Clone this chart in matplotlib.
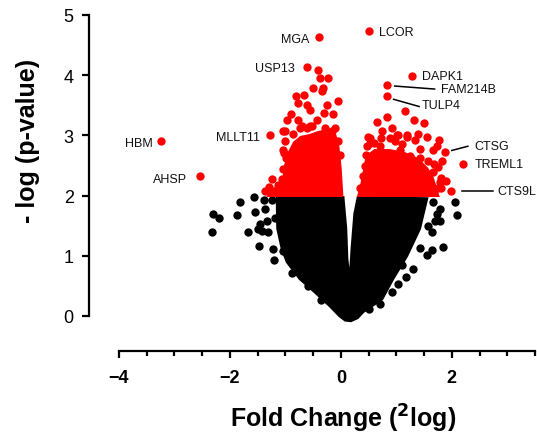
import matplotlib
matplotlib.use("Agg")
import matplotlib.pyplot as plt

plt.rcParams["font.family"] = ["Liberation Sans", "DejaVu Sans"]

# ---------------------------------------------------------------------------
# Data (fold change in 2log, -log p-value)
# ---------------------------------------------------------------------------
# Dense non-significant core (outline of the solid black V)
black_core_x = [-1.15, -1.14, -1.06, -0.97, -0.74, -0.47, -0.20, -0.02, 0.08,
                0.18, 0.30, 0.40, 0.74, 0.94, 1.19, 1.42, 1.55, 0.31, 0.25,
                0.20, 0.16, 0.11, 0.09, 0.04]
black_core_y = [1.97, 1.45, 1.12, 0.90, 0.62, 0.40, 0.17, 0.00, -0.07,
                -0.08, -0.03, 0.07, 0.28, 0.62, 1.00, 1.45, 1.95, 1.97, 1.70,
                1.12, 0.53, 0.95, 1.45, 1.97]

# Scattered non-significant genes around the core
black_x = [-1.82, -1.57, -1.39, -2.31, -2.20, -1.87, -1.55, -1.37, -2.32,
           -1.68, -1.46, -1.33, -1.50, -1.42, -1.32, -1.48, -1.23, -1.05,
           -1.21, -0.88, -1.19, -1.25, -0.60, -0.35,
           2.05, 2.09, 1.84, 1.64, 1.55, 1.42, 1.30, 1.17, 1.03, 0.92, 0.70,
           1.78, 1.73, 1.78, 1.69, 1.64, 1.57, 1.66, 0.50, 1.10]
black_y = [1.90, 1.98, 1.92, 1.70, 1.63, 1.67, 1.72, 1.78, 1.40,
           1.40, 1.53, 1.57, 1.45, 1.42, 1.40, 1.17, 1.12, 1.08,
           0.93, 0.72, 1.63, 1.92, 0.50, 0.27,
           1.90, 1.67, 1.15, 1.10, 1.02, 1.13, 0.78, 0.65, 0.53, 0.40, 0.20,
           1.78, 1.70, 1.57, 1.57, 1.40, 1.50, 1.90, 0.12, 0.85]

# Dense significant cores (down- and up-regulated lobes)
red_left_core_x = [-1.30, -1.22, -1.04, -1.00, -0.93, -0.84, -0.72, -0.56,
                   -0.41, -0.25, -0.11, -0.05, -0.01, 0.02]
red_left_core_y = [2.00, 2.10, 2.20, 2.50, 2.72, 2.88, 2.97, 3.00,
                   3.05, 3.08, 3.02, 2.80, 2.45, 2.00]
red_right_core_x = [0.32, 0.36, 0.41, 0.47, 0.61, 0.88, 1.15, 1.39, 1.55,
                    1.64, 1.71, 1.75]
red_right_core_y = [2.00, 2.12, 2.35, 2.65, 2.75, 2.75, 2.70, 2.60, 2.45,
                    2.32, 2.12, 2.00]

# Scattered significant genes
red_x = [-0.40, -0.61, -0.41, -0.38, -0.23, -0.50, -0.32, -0.81, -0.67,
         -0.77, -0.61, -0.56, -0.34, -0.05, -0.25, -0.97, -0.77, -0.70,
         -0.56, -0.43, -1.28, -1.05, -0.86, -0.61, -0.11, -3.24, -2.54,
         -1.30, -1.24, -1.37, -1.03, -1.05, -0.15, -0.30, -0.90, -1.00,
         -1.01, -1.05, -0.99, -0.97, -1.06, -1.14, -1.28, -0.74, -0.52,
         -0.29, -0.16, -0.05, -0.02,
         0.50, 1.28, 0.83, 0.83, 0.83, 1.15, 1.32, 0.65, 1.50, 0.74, 0.92,
         1.03, 0.52, 1.19, 1.39, 1.33, 1.55, 1.77, 1.73, 1.87, 2.20, 1.57,
         1.82, 1.66, 1.89, 1.80, 1.98, 1.64, 1.68, 1.66, 0.47, 0.43, 0.34,
         1.42, 1.75, 1.81, 0.60, 0.98, 1.10, 0.72,
         0.49, 0.52, 0.45, 0.43, 0.40, 0.38, 0.88, 1.01, 1.19, 0.70, 1.06,
         1.24, 1.42, 1.78, 1.75]
red_y = [4.63, 4.13, 4.08, 3.95, 3.95, 3.78, 3.78, 3.65, 3.67,
         3.53, 3.50, 3.42, 3.73, 3.57, 3.50, 3.25, 3.25, 3.15,
         3.15, 3.25, 3.00, 3.08, 3.03, 3.12, 3.12, 2.90, 2.32,
         2.15, 2.28, 2.08, 2.70, 2.45, 3.35, 3.38, 3.35, 2.90,
         3.08, 2.75, 2.62, 2.45, 2.28, 2.17, 2.08, 3.12, 3.15,
         3.12, 3.07, 2.90, 2.67,
         4.73, 3.98, 3.83, 3.65, 3.30, 3.40, 3.25, 3.22, 3.20, 3.08, 3.12,
         3.00, 2.95, 3.00, 3.03, 2.92, 2.98, 2.92, 2.82, 2.73, 2.53, 2.57,
         2.58, 2.40, 2.25, 2.12, 2.07, 2.12, 2.53, 2.75, 2.83, 2.33, 2.12,
         2.78, 2.48, 2.30, 2.88, 2.90, 2.85, 2.95,
         2.98, 2.87, 2.67, 2.50, 2.32, 2.12, 2.95, 3.00, 2.98, 2.82, 2.75,
         2.65, 2.62, 2.23, 2.12]

# Named genes (label text, point it belongs to)
gene_names = ["MGA", "USP13", "MLLT11", "HBM", "AHSP", "LCOR", "DAPK1",
              "FAM214B", "TULP4", "CTSG", "TREML1", "CTS9L"]
gene_x = [-0.40, -0.61, -1.28, -3.24, -2.54, 0.50, 1.28, 0.83, 0.83, 1.87,
          2.20, 1.98]
gene_y = [4.63, 4.13, 3.00, 2.90, 2.32, 4.73, 3.98, 3.83, 3.65, 2.73,
          2.53, 2.07]

# Label placement: text anchor (x, y, ha) and optional leader line
label_pos = {
    "MGA":     (-0.56, 4.60, "right"),
    "USP13":   (-0.83, 4.12, "right"),
    "MLLT11":  (-1.46, 2.98, "right"),
    "HBM":     (-3.39, 2.87, "right"),
    "AHSP":    (-2.77, 2.28, "right"),
    "LCOR":    (0.68, 4.72, "left"),
    "DAPK1":   (1.46, 3.98, "left"),
    "FAM214B": (1.80, 3.77, "left"),
    "TULP4":   (1.46, 3.50, "left"),
    "CTSG":    (2.41, 2.82, "left"),
    "TREML1":  (2.41, 2.53, "left"),
    "CTS9L":   (2.83, 2.07, "left"),
}
leader_lines = {
    "FAM214B": ((0.97, 1.69), (3.82, 3.77)),
    "TULP4":   ((0.95, 1.41), (3.60, 3.48)),
    "CTSG":    ((2.00, 2.29), (2.75, 2.82)),
    "CTS9L":   ((2.18, 2.74), (2.07, 2.07)),
}

# ---------------------------------------------------------------------------
# Figure
# ---------------------------------------------------------------------------
W, H = 537, 439
fig = plt.figure(figsize=(W / 100, H / 100), dpi=100)
ax = fig.add_axes([119 / W, (H - 317) / H, (535 - 119) / W, (317 - 16) / H])

RED = "#FF0000"
DOT = 36

ax.fill(black_core_x, black_core_y, color="black", lw=2, clip_on=False,
        zorder=2)
ax.scatter(black_x, black_y, s=DOT, color="black", lw=0, clip_on=False,
           zorder=2)
ax.fill(red_left_core_x, red_left_core_y, color=RED, lw=2, clip_on=False,
        zorder=3)
ax.fill(red_right_core_x, red_right_core_y, color=RED, lw=2, clip_on=False,
        zorder=3)
ax.scatter(red_x, red_y, s=DOT, color=RED, lw=0, clip_on=False, zorder=3)

for name in gene_names:
    tx, ty, ha = label_pos[name]
    ax.text(tx, ty, name, ha=ha, va="center", fontsize=9, color="#111111")
    if name in leader_lines:
        lx, ly = leader_lines[name]
        ax.plot(lx, ly, color="black", lw=1.1, clip_on=False)

ax.set_xlim(-4, 3.5)
ax.set_ylim(0, 5)

for side in ("top", "right"):
    ax.spines[side].set_visible(False)
ax.spines["left"].set_position(("outward", 30 * 0.72))
ax.spines["bottom"].set_position(("outward", 35 * 0.72))
ax.spines["left"].set_bounds(0, 5)
ax.spines["left"].set_linewidth(1.6)
ax.spines["bottom"].set_linewidth(1.6)

ax.set_xticks([-4, -2, 0, 2])
ax.set_xticks([-3.5, -3, -2.5, -1.5, -1, -0.5, 0.5, 1, 1.5, 2.5, 3, 3.5],
              minor=True)
ax.set_yticks([0, 1, 2, 3, 4, 5])
ax.tick_params(axis="both", which="major", length=5, width=1.6,
               labelsize=13, pad=6)
ax.tick_params(axis="x", which="minor", length=3.5, width=1.6)
ax.tick_params(axis="x", pad=8)
for lbl in ax.get_xticklabels():
    lbl.set_fontweight("bold")

ax.set_xlabel("Fold Change ($\\mathbf{^{2}}$log)", fontsize=18,
              fontweight="bold")
ax.set_ylabel("- log (p-value)", fontsize=18, fontweight="bold")
ax.xaxis.set_label_coords(0.538, -0.285)
ax.yaxis.set_label_coords(-0.19, 0.585)

fig.savefig("out.png", dpi=100)
